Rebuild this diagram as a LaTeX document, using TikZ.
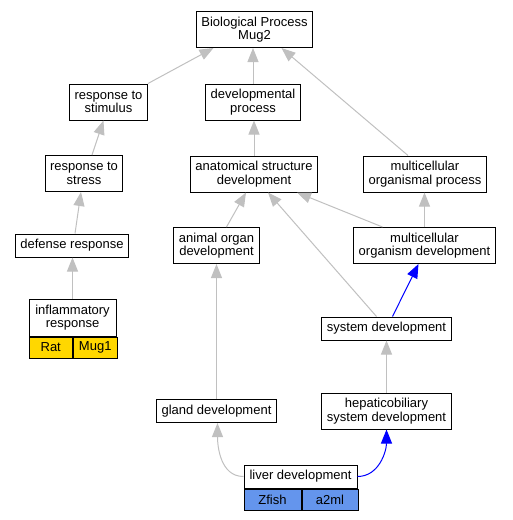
\documentclass[tikz,border=0pt]{standalone}
\usepackage{fontspec}
\setmainfont{Liberation Sans}
\usetikzlibrary{arrows.meta,positioning}
\definecolor{edgegray}{RGB}{192,192,192}
\definecolor{ratgold}{RGB}{255,215,0}
\definecolor{fishblue}{RGB}{100,149,237}

\begin{document}
\begin{tikzpicture}
      [x=1pt, y=-1pt,
        term/.style={draw, line width=1pt, fill=white, align=center, inner xsep=5pt,
          inner ysep=0pt, minimum height=23pt, font=\fontsize{13}{13.3}\selectfont},
        pair/.style={term, minimum height=36pt},
        cell/.style={term, minimum height=21pt, anchor=north west},
        isa/.style={draw=edgegray, line width=1pt, -{Triangle[length=14pt,width=11pt]}},
        part/.style={isa, draw=blue}]
    \useasboundingbox (0,0) rectangle (512,520);
    % terms
    \node[pair] (bp) at (254.5,29.5) {Biological Process\\Mug2};
    \node[pair] (stim) at (108.5,102) {response to\\stimulus};
    \node[pair] (devproc) at (253,102) {developmental\\process};
    \node[pair] (stress) at (84,173.5) {response to\\stress};
    \node[pair] (anat) at (254,174) {anatomical structure\\development};
    \node[pair] (mop) at (425,174) {multicellular\\organismal process};
    \node[term] (defense) at (72,245.5) {defense response};
    \node[pair] (organ) at (216.5,245.5) {animal organ\\development};
    \node[pair] (mod) at (424.5,245.5) {multicellular\\organism development};
    \node[pair, minimum height=37pt, minimum width=87pt] (inflam) at (72.5,317.5) {inflammatory\\response};
    \node[cell, fill=ratgold, minimum width=43.5pt] (rat) at (inflam.south west) {Rat};
    \node[cell, fill=ratgold, minimum width=43.5pt, right=0pt of rat] (mugone) {Mug1};
    \node[term] (sysdev) at (386.5,328.5) {system development};
    \node[term] (gland) at (216.5,411) {gland development};
    \node[pair] (hepat) at (386.5,411) {hepaticobiliary\\system development};
    \node[term, minimum width=113pt] (liver) at (300.5,476.5) {liver development};
    \node[cell, fill=fishblue, minimum width=57pt] (zfish) at (liver.south west) {Zfish};
    \node[cell, fill=fishblue, minimum width=56pt, right=0pt of zfish] (atwoml) {a2ml};
    % is_a / part_of links
    \draw[isa] (stim.north east) -- ([xshift=-41pt]bp.south);
    \draw[isa] (devproc.north) -- (devproc.north |- bp.south);
    \draw[isa] ([xshift=-17pt]mop.north) -- ([xshift=27pt]bp.south);
    \draw[isa] ([xshift=8pt]stress.north) -- ([xshift=-5pt]stim.south);
    \draw[isa] ([xshift=3pt]defense.north) -- ([xshift=-3pt]stress.south);
    \draw[isa] (inflam.north) -- (inflam.north |- defense.south);
    \draw[isa] (anat.north) -- (anat.north |- devproc.south);
    \draw[isa] ([xshift=10pt]organ.north) -- ([xshift=-8pt]anat.south);
    \draw[isa] ([xshift=-42pt]mod.north) -- ([xshift=43pt]anat.south);
    \draw[isa] (mod.north) -- (mod.north |- mop.south);
    \draw[isa] ([xshift=-10pt]sysdev.north) -- ([xshift=14pt]anat.south);
    \draw[part] ([xshift=6pt]sysdev.north) -- ([xshift=-6pt]mod.south);
    \draw[isa] (gland.north) -- (gland.north |- organ.south);
    \draw[isa] (hepat.north) -- (hepat.north |- sysdev.south);
    \draw[isa] (liver.west) to[out=180, in=-90] ([xshift=1pt]gland.south);
    \draw[part] (liver.east) to[out=0, in=-90] (hepat.south);
\end{tikzpicture}
\end{document}
